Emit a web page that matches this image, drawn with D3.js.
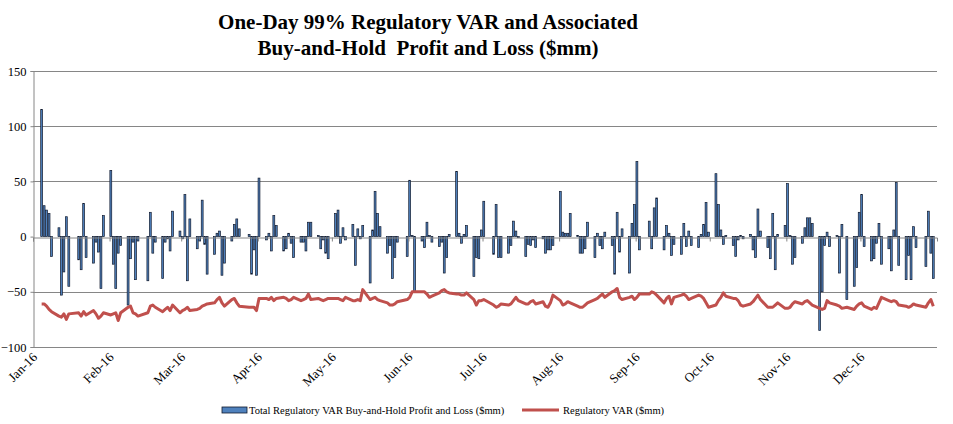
<!DOCTYPE html>
<html>
<head>
<meta charset="utf-8">
<script src="https://cdn.jsdelivr.net/npm/d3@7"></script>
<style>
  html, body { margin: 0; padding: 0; background: #fff; }
  svg { display: block; }
  text { font-family: "Liberation Serif", "Times New Roman", serif; }
</style>
</head>
<body>
<svg id="chart" width="953" height="424"></svg>
<script>
// ---- data ----
const titleLines = ["One-Day 99% Regulatory VAR and Associated", "Buy-and-Hold  Profit and Loss ($mm)"];
const seriesNames = ["Total Regulatory VAR Buy-and-Hold Profit and Loss ($mm)", "Regulatory VAR ($mm)"];
const yTicks = [-100, -50, 0, 50, 100, 150];
const monthLabels = ["Jan-16","Feb-16","Mar-16","Apr-16","May-16","Jun-16","Jul-16","Aug-16","Sep-16","Oct-16","Nov-16","Dec-16"];
const holidays = ["2016-01-01","2016-01-18","2016-02-15","2016-03-25","2016-05-30","2016-07-04","2016-09-05","2016-11-24","2016-12-26"];

// daily buy-and-hold P&L ($mm), trading days of 2016, week by week
const pnl = [
  115, 28, 24, 21, -18,
  8, -53, -32, 18, -45,
  -21, -30, 30, -19,
  -24, -5, -14, -47, 19,
  60, -25, -47, -15, -8,
  -62, -20, -5, -39, -4,
  -40, 22, -15, -5,
  -38, -5, -2, -13, 23,
  5, -2, 38, -40, 16,
  -11, -4, 33, -7, -34,
  -16, 3, 5, -35, -24,
  -4, 11, 16, 7,
  2, -34, -12, -35, 53,
  -3, 3, -13, 19, 10,
  -13, -11, 3, -6, -19,
  -5, -5, -13, 13, 13,
  1, -11, -3, -15, -20,
  21, 24, -6, 8, -3,
  11, -26, 7, -2, 10,
  -42, 6, 41, 21, 9,
  -15, -8, -38, -19, -5,
  -18, 51, 1, -50,
  -4, -10, 13, 1, -5,
  -9, -5, -33, -19, 2,
  59, 3, -6, 2, 10,
  -36, -19, -20, 6, 32,
  -16, 29, -19, -19,
  -15, -8, 14, 5, -1,
  -18, -7, -8, -3, -10,
  -2, -15, -12, -12, -8,
  41, 4, 3, 3, 21,
  1, -15, -15, -11, 13,
  -19, 3, -8, -11, 4,
  -8, -34, 22, -14, 7,
  -33, 12, 29, 68, -12,
  14, -11, 26, 35,
  -12, 10, 3, -17, -7,
  -16, 12, -9, 5, -8,
  -10, 2, 11, 31, 4,
  57, 29, 6, -7, 1,
  -8, -18, -3, 1, -2,
  2, -12, -19, 25, 5,
  -10, -20, 21, -30, 2,
  10, 48, 1, -25, -19,
  -6, 8, 17, 17, 12,
  -85, -50, -8, 4, -9,
  1, -33, 11, -57,
  -45, -28, 22, 38, -9,
  -22, -20, -6, 12, -25,
  -11, -31, 6, 49, -26,
  -39, -17, -39, 9, -10,
  -27, 23, -15, -38
];

// daily regulatory VAR ($mm), shown as negative
const regVar = [
  -61, -61, -63, -66, -68,
  -72, -73, -70, -75, -70,
  -69, -72, -68, -71,
  -67, -70, -74, -72, -69,
  -71, -70, -69, -76, -69,
  -64, -63, -69, -70, -72,
  -69, -63, -62, -64,
  -68, -66, -64, -67, -62,
  -69, -67, -66, -64, -67,
  -66, -65, -63, -62, -61,
  -60, -57, -55, -60, -63,
  -57, -56, -60, -63,
  -64, -64, -64, -67, -56,
  -56, -57, -55, -58, -56,
  -55, -56, -58, -57, -55,
  -58, -57, -56, -52, -57,
  -56, -57, -58, -57, -56,
  -56, -56, -57, -58, -55,
  -58, -58, -57, -58, -48,
  -57, -56, -55, -57, -58,
  -60, -62, -62, -61, -59,
  -57, -55, -50, -50,
  -50, -50, -52, -55, -54,
  -51, -49, -48, -50, -51,
  -52, -52, -53, -53, -51,
  -57, -62, -58, -58, -57,
  -62, -64, -63, -61,
  -62, -61, -58, -55, -58,
  -61, -61, -59, -58, -61,
  -59, -63, -64, -60, -53,
  -58, -62, -61, -59, -60,
  -63, -64, -64, -62, -60,
  -57, -56, -54, -52, -55,
  -50, -49, -47, -55, -57,
  -55, -54, -57, -55, -52,
  -52, -50, -51, -53,
  -60, -56, -54, -61, -55,
  -53, -52, -54, -57, -56,
  -53, -54, -56, -60, -64,
  -62, -58, -55, -51, -54,
  -56, -56, -58, -62, -63,
  -61, -59, -56, -53, -57,
  -64, -64, -64, -62, -60,
  -65, -65, -64, -61, -59,
  -61, -59, -58, -60, -62,
  -65, -66, -65, -58, -60,
  -62, -63, -65, -64,
  -66, -63, -61, -60, -63,
  -66, -64, -65, -60, -55,
  -58, -59, -58, -59, -62,
  -63, -64, -63, -61, -62,
  -64, -60, -57, -63
];

// ---- trading-day categories ----
const fmt = d3.timeFormat("%Y-%m-%d");
const hol = new Set(holidays);
const days = d3.timeDay.range(new Date(2016, 0, 1), new Date(2017, 0, 1))
  .filter(d => d.getDay() !== 0 && d.getDay() !== 6 && !hol.has(fmt(d)));
const rows = days.slice(0, pnl.length).map((d, i) => ({ date: d, pnl: pnl[i], v: regVar[i] }));

// ---- layout ----
const svg = d3.select("#chart");
const plotL = 33, plotR = 937, plotT = 71, plotB = 347;
const x = d3.scaleTime().domain([new Date(2016, 0, 1), new Date(2017, 0, 1)]).range([plotL, plotR]);
const y = d3.scaleLinear().domain([-100, 150]).range([plotB, plotT]);
const dayW = x(new Date(2016, 0, 2)) - x(new Date(2016, 0, 1));
const serif = '"Liberation Serif", "Times New Roman", serif';

// title
svg.append("g").selectAll("text").data(titleLines).join("text")
  .attr("x", 428).attr("y", (d, i) => 29 + i * 26)
  .attr("text-anchor", "middle")
  .attr("font-size", 21).attr("font-weight", "bold").attr("fill", "#000")
  .style("white-space", "pre")
  .text(d => d);

// gridlines
svg.append("g").selectAll("line").data(yTicks.filter(t => t !== 0)).join("line")
  .attr("x1", plotL).attr("x2", plotR)
  .attr("y1", d => Math.round(y(d)) + 0.5).attr("y2", d => Math.round(y(d)) + 0.5)
  .attr("stroke", "#868686").attr("stroke-width", 1);

// y axis
const yAxis = d3.axisLeft(y).tickValues(yTicks).tickSize(3).tickPadding(4).tickFormat(d3.format("d"));
const gy = svg.append("g").attr("transform", `translate(${plotL + 0.5},0)`).call(yAxis);
gy.attr("font-family", serif);
gy.select(".domain").attr("stroke", "#868686");
gy.selectAll(".tick line").attr("stroke", "#868686");
gy.selectAll(".tick text").attr("font-family", serif).attr("font-size", 12.5).attr("fill", "#000");

// bars
svg.append("g").selectAll("rect").data(rows).join("rect")
  .attr("x", d => x(d.date) + 0.3)
  .attr("width", dayW - 0.6)
  .attr("y", d => y(Math.max(0, d.pnl)))
  .attr("height", d => Math.abs(y(d.pnl) - y(0)))
  .attr("fill", "#4F81BD")
  .attr("stroke", "#111a2e").attr("stroke-width", 0.7);

// category axis line at zero with month ticks
const months = d3.timeMonth.range(new Date(2016, 0, 1), new Date(2017, 0, 1));
const xAxis = d3.axisBottom(x).tickValues(months).tickSize(4).tickFormat("");
const gx = svg.append("g").attr("transform", `translate(0,${Math.round(y(0)) + 0.5})`).call(xAxis);
gx.select(".domain").attr("stroke", "#868686");
gx.selectAll(".tick line").attr("stroke", "#868686");

// month labels at bottom, rotated
svg.append("g").selectAll("text").data(months).join("text")
  .attr("transform", d => `translate(${x(d) + 5},${plotB + 11}) rotate(-45)`)
  .attr("text-anchor", "end")
  .attr("font-size", 13).attr("fill", "#000")
  .text((d, i) => monthLabels[i]);

// VAR line
const line = d3.line().x(d => x(d.date) + dayW / 2).y(d => y(d.v));
svg.append("path").datum(rows).attr("d", line)
  .attr("fill", "none").attr("stroke", "#C0504D").attr("stroke-width", 3)
  .attr("stroke-linejoin", "round");

// legend
const lg = svg.append("g");
lg.append("rect").attr("x", 222).attr("y", 407).attr("width", 25).attr("height", 6)
  .attr("fill", "#4F81BD").attr("stroke", "#111a2e").attr("stroke-width", 0.8);
lg.append("text").attr("x", 249).attr("y", 414).attr("font-size", 10.5).attr("fill", "#000").text(seriesNames[0]);
lg.append("line").attr("x1", 522).attr("x2", 559).attr("y1", 410).attr("y2", 410)
  .attr("stroke", "#C0504D").attr("stroke-width", 3);
lg.append("text").attr("x", 563).attr("y", 414).attr("font-size", 10.5).attr("fill", "#000").text(seriesNames[1]);
</script>
</body>
</html>
